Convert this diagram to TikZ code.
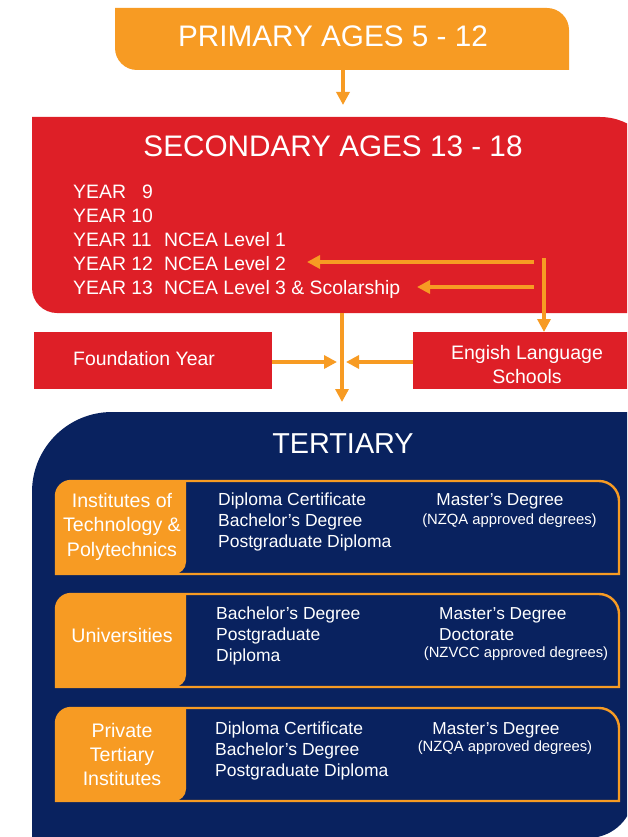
\documentclass[tikz,border=0pt]{standalone}
\usepackage{fontspec}
\setmainfont{Liberation Sans}
\usetikzlibrary{arrows.meta}
\definecolor{orng}{HTML}{F79B23}
\definecolor{redb}{HTML}{DE1F27}
\definecolor{navyb}{HTML}{09225F}
\begin{document}
\begin{tikzpicture}[x=1pt,y=-1pt,
  arr/.style={draw=orng, line width=3.6pt, -{Triangle[width=13pt,length=13pt]}},
  wt/.style={text=white, inner sep=0pt},
  head/.style={wt, anchor=base, font=\fontsize{29.7}{34}\selectfont},
  yr/.style={wt, anchor=base west, font=\fontsize{19.4}{23}\selectfont},
  mid/.style={wt, anchor=base west, font=\fontsize{17.5}{21}\selectfont},
  lab/.style={wt, anchor=base, font=\fontsize{19.6}{23}\selectfont},
  small/.style={wt, anchor=base, font=\fontsize{14.8}{18}\selectfont},
  edge/.style={draw=orng, line width=2.4pt}
]
\useasboundingbox (0,0) rectangle (627,837);
\clip (0,0) rectangle (627,837);

% ---------- primary ----------
\fill[orng] (115,8) -- (547,8) arc[start angle=270,end angle=360,radius=22]
  -- (569,70) -- (137,70) arc[start angle=90,end angle=180,radius=22] -- cycle;
\node[head] (prim) at (333,47) {PRIMARY AGES 5 - 12};
\coordinate (primbot) at (343,70);
\coordinate (sectop) at (343,105);

% ---------- secondary ----------
\fill[redb] (32,117) -- (600,117) arc[start angle=270,end angle=360,radius=60]
  -- (660,313) -- (57,313) arc[start angle=90,end angle=180,radius=25] -- cycle;
\node[head] (sec) at (333,157) {SECONDARY AGES 13 - 18};
\node[yr] (y9)  at (73,198) {\makebox[91pt][l]{YEAR \phantom{1}9}};
\node[yr] (y10) at (73,222) {\makebox[91pt][l]{YEAR 10}};
\node[yr] (y11) at (73,246) {\makebox[91pt][l]{YEAR 11}NCEA Level 1};
\node[yr] (y12) at (73,270) {\makebox[91pt][l]{YEAR 12}NCEA Level 2};
\node[yr] (y13) at (73,294) {\makebox[91pt][l]{YEAR 13}NCEA Level 3 \& Scolarship};

\coordinate (a12s) at (534,262);
\coordinate (a12e) at (307,262);
\coordinate (a13s) at (534,287);
\coordinate (a13e) at (417,287);
\coordinate (avs) at (544,258);
\coordinate (ave) at (544,332);
\coordinate (secbot) at (342,313);
\coordinate (tertop) at (342,402);

% ---------- side boxes ----------
\fill[redb] (34,332) rectangle (272,389);
\fill[redb] (413,332) rectangle (640,389);
\node[yr] (found) at (73,365) {Foundation Year};
\node[wt, anchor=base, font=\fontsize{19.5}{23}\selectfont] (eng1) at (527,359) {Engish Language};
\node[wt, anchor=base, font=\fontsize{19.5}{23}\selectfont] (eng2) at (527,383) {Schools};
\coordinate (fe) at (272,362);
\coordinate (fj) at (337,362);
\coordinate (ee) at (413,362);
\coordinate (ej) at (346,362);

% ---------- tertiary ----------
\fill[navyb] (32,492) arc[start angle=180,end angle=270,radius=80]
  -- (634,412) -- (634,792) arc[start angle=0,end angle=90,radius=46]
  -- (32,838) -- cycle;
\node[head, font=\fontsize{28.8}{34}\selectfont] (ter) at (343,453) {TERTIARY};

\foreach \t in {481,594,708}{
  \begin{scope}[shift={(0,\t)}]
    \fill[orng] (56,93) -- (56,15) arc[start angle=180,end angle=270,radius=15]
      -- (186,0) -- (186,81) arc[start angle=0,end angle=90,radius=12] -- cycle;
    \draw[edge] (56,93) -- (56,15) arc[start angle=180,end angle=270,radius=15]
      -- (599,0) arc[start angle=270,end angle=360,radius=20] -- (619,93) -- cycle;
  \end{scope}
}

% box 1
\node[lab] (it1) at (122,507) {Institutes of};
\node[lab] (it2) at (122,531.5) {Technology \&};
\node[lab] (it3) at (122,556) {Polytechnics};
\node[mid] (m11) at (218,505.7) {Diploma Certificate};
\node[mid] (m12) at (218,526.7) {Bachelor’s Degree};
\node[mid] (m13) at (218,547.7) {Postgraduate Diploma};
\node[wt, anchor=base, font=\fontsize{17.3}{21}\selectfont] (r11) at (500,505.7) {Master’s Degree};
\node[small] (r12) at (509.5,524) {(NZQA approved degrees)};

% box 2
\node[lab] (un) at (122,642.7) {Universities};
\node[mid] (m21) at (216,619) {Bachelor’s Degree};
\node[mid] (m22) at (216,640) {Postgraduate};
\node[mid] (m23) at (216,661.5) {Diploma};
\node[mid, font=\fontsize{17.3}{21}\selectfont] (r21) at (439,619) {Master’s Degree};
\node[mid, font=\fontsize{17.3}{21}\selectfont] (r22) at (439,640) {Doctorate};
\node[small] (r23) at (516,657) {(NZVCC approved degrees)};

% box 3
\node[lab] (pt1) at (122,737) {Private};
\node[lab] (pt2) at (122,761) {Tertiary};
\node[lab] (pt3) at (122,785) {Institutes};
\node[mid] (m31) at (215,734) {Diploma Certificate};
\node[mid] (m32) at (215,755) {Bachelor’s Degree};
\node[mid] (m33) at (215,776) {Postgraduate Diploma};
\node[wt, anchor=base, font=\fontsize{17.3}{21}\selectfont] (r31) at (496,734) {Master’s Degree};
\node[small] (r32) at (505,751.5) {(NZQA approved degrees)};

% ---------- arrows ----------
\draw[arr] (primbot) -- (sectop);
\draw[arr] (a12s) -- (a12e);
\draw[arr] (a13s) -- (a13e);
\draw[arr] (avs) -- (ave);
\draw[arr] (secbot) -- (tertop);
\draw[arr] (fe) -- (fj);
\draw[arr] (ee) -- (ej);
\end{tikzpicture}
\end{document}
